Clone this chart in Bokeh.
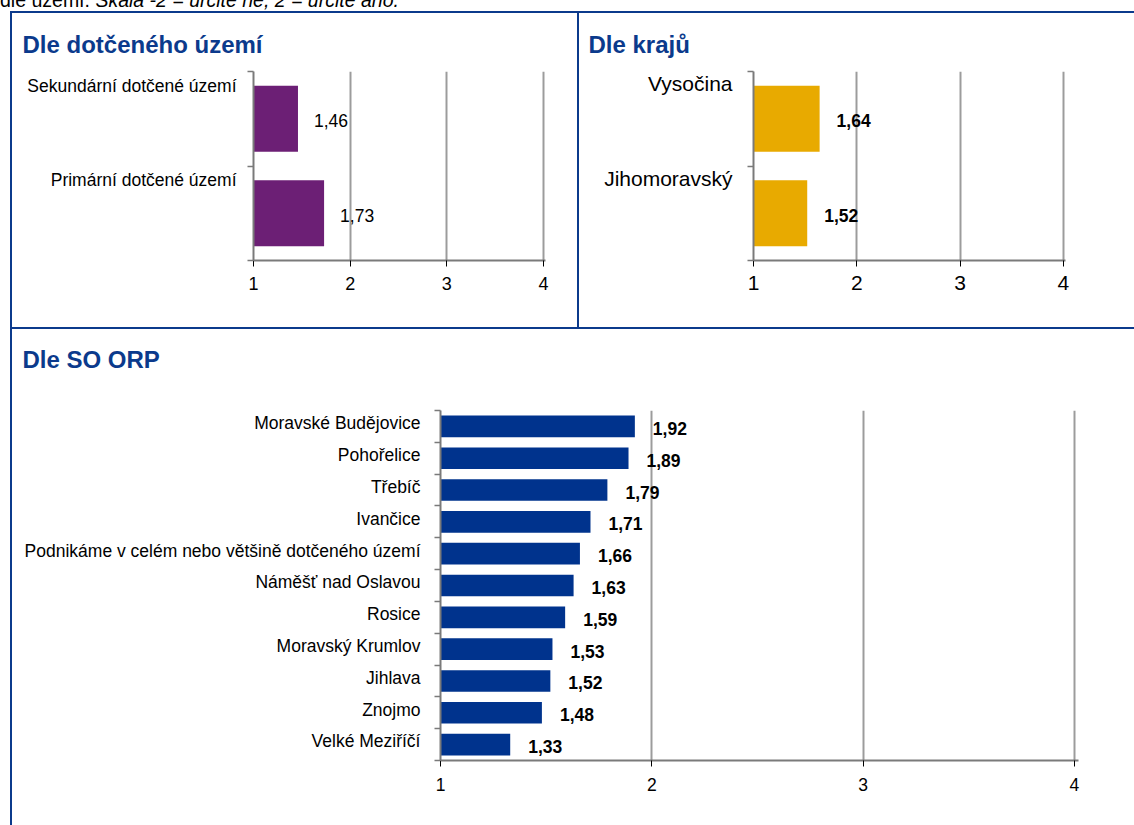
from bokeh.plotting import figure
from bokeh.models import Range1d, FixedTicker, Div, Spacer, LinearAxis, Title
from bokeh.layouts import row, column
from bokeh.core.properties import value
from bokeh.embed import file_html
from bokeh.resources import INLINE

FONT = "Liberation Sans"
BLUE = "#0b3a8c"
AXIS_GRAY = "#7a7a7a"
GRID_GRAY = "#9c9c9c"

# ---- data ----
area_title = "Dle dotčeného území"
area_cats = ["Sekundární dotčené území", "Primární dotčené území"]
area_vals = [1.46, 1.73]

region_title = "Dle krajů"
region_cats = ["Vysočina", "Jihomoravský"]
region_vals = [1.64, 1.52]

orp_title = "Dle SO ORP"
orp_cats = ["Moravské Budějovice", "Pohořelice", "Třebíč", "Ivančice",
            "Podnikáme v celém nebo většině dotčeného území", "Náměšť nad Oslavou",
            "Rosice", "Moravský Krumlov", "Jihlava", "Znojmo", "Velké Meziříčí"]
orp_vals = [1.92, 1.89, 1.79, 1.71, 1.66, 1.63, 1.59, 1.53, 1.52, 1.48, 1.33]

x_ticks = [1, 2, 3, 4]
x_min, x_max = 1, 4.02

intro_text = "dle území. <i>Škála -2 = určitě ne, 2 = určitě ano.</i>"


def panel(title, cats, vals, color, width, height, bl, br, bt, bb,
          bar_h, label_shift, cat_size, tick_size, val_size, val_bold,
          val_offset, title_offset, title_standoff, title_gap, cat_standoff, tick_standoff):
    n = len(cats)
    p = figure(width=width, height=height, output_backend="svg", toolbar_location=None,
               x_range=Range1d(x_min, x_max), y_range=Range1d(n, 0),
               min_border_left=bl, min_border_right=br, min_border_top=bt,
               min_border_bottom=bb, margin=0, title=None)
    p.outline_line_color = None
    p.background_fill_color = "white"
    p.border_fill_color = "white"

    centers = [i + 0.5 for i in range(n)]
    p.hbar(y=centers, left=x_min, right=vals, height=bar_h, fill_color=color,
           line_color=None)
    labels = [f"{v:.2f}".replace(".", ",") for v in vals]
    p.text(x=vals, y=centers, text=labels, x_offset=val_offset, y_offset=2,
           text_align="left", text_baseline="middle", text_font=value(FONT),
           text_font_size=val_size, text_font_style="bold" if val_bold else "normal",
           text_color="black")

    # y axis: labels via major ticks, boundaries via minor ticks
    label_pos = [c + label_shift for c in centers]
    yax = p.yaxis[0]
    yax.ticker = FixedTicker(ticks=label_pos, minor_ticks=list(range(n + 1)))
    yax.major_label_overrides = {lp: c for lp, c in zip(label_pos, cats)}
    yax.major_tick_out = 0
    yax.major_tick_in = 0
    yax.minor_tick_out = 6
    yax.minor_tick_in = 0
    yax.minor_tick_line_color = AXIS_GRAY
    yax.minor_tick_line_width = 1.5
    yax.axis_line_color = AXIS_GRAY
    yax.axis_line_width = 2
    yax.major_label_text_font = FONT
    yax.major_label_text_font_size = cat_size
    yax.major_label_text_color = "black"
    yax.major_label_standoff = cat_standoff

    xax = p.xaxis[0]
    xax.ticker = FixedTicker(ticks=x_ticks, minor_ticks=[])
    xax.major_tick_out = 6
    xax.major_tick_in = 0
    xax.major_tick_line_color = "black"
    xax.major_tick_line_width = 1
    xax.axis_line_color = AXIS_GRAY
    xax.axis_line_width = 2
    xax.major_label_text_font = FONT
    xax.major_label_text_font_size = tick_size
    xax.major_label_text_color = "black"
    xax.major_label_standoff = tick_standoff

    p.ygrid.visible = False
    p.xgrid.ticker = FixedTicker(ticks=x_ticks[1:])
    p.xgrid.grid_line_color = GRID_GRAY
    p.xgrid.grid_line_width = 2

    if title_gap > 0:
        # invisible spacer between the plot area and the title
        gap_axis = LinearAxis(ticker=FixedTicker(ticks=[x_min], minor_ticks=[]),
                              major_label_overrides={x_min: ""},
                              major_label_text_font_size="1px",
                              major_tick_out=title_gap, major_tick_in=0,
                              minor_tick_out=0, minor_tick_in=0,
                              axis_line_color=None, major_tick_line_color=None,
                              minor_tick_line_color=None, major_label_standoff=0)
        p.add_layout(gap_axis, "above")

    t = Title(text=title, text_font=FONT, text_font_size="24px", text_font_style="bold",
              text_color=BLUE, align="left", offset=title_offset, standoff=title_standoff)
    p.add_layout(t, "above")
    return p


p1 = panel(area_title, area_cats, area_vals, "#6c1f75", 565, 314, 241, 32, 58, 67,
           0.70, -0.35, "17.5px", "18px", "17.5px", False, 16, -231, 27, 0, 11, 10)
p2 = panel(region_title, region_cats, region_vals, "#e8aa00", 555, 314, 174, 69, 58, 67,
           0.70, -0.37, "21px", "21px", "17.5px", True, 17, -165, 27, 0, 15, 9)
p3 = panel(orp_title, orp_cats, orp_vals, "#00338d", 1122, 496, 428, 56, 81, 65,
           0.68, -0.1, "17.5px", "17.5px", "17.5px", True, 18, -418, 0, 38, 14, 11)


def hline(w):
    return Div(width=w, height=2, margin=0, styles={"background-color": BLUE})


def vline(h):
    return Div(width=2, height=h, margin=0, styles={"background-color": BLUE})


intro = Div(width=1134, height=11, margin=0,
            text=('<div style="position:relative; top:-13px; font-family:\'Liberation Sans\';'
                  ' font-size:19.5px; white-space:nowrap; color:black;">' + intro_text + '</div>'),
            styles={"overflow": "visible"})

layout = column(
    intro,
    row(Spacer(width=10, height=814, margin=0), vline(814),
        column(hline(1122), row(p1, vline(314), p2, spacing=0, margin=0),
               hline(1122), p3, spacing=0, margin=0),
        spacing=0, margin=0),
    spacing=0, margin=0,
)

open("out.html", "w").write(file_html(layout, INLINE))
